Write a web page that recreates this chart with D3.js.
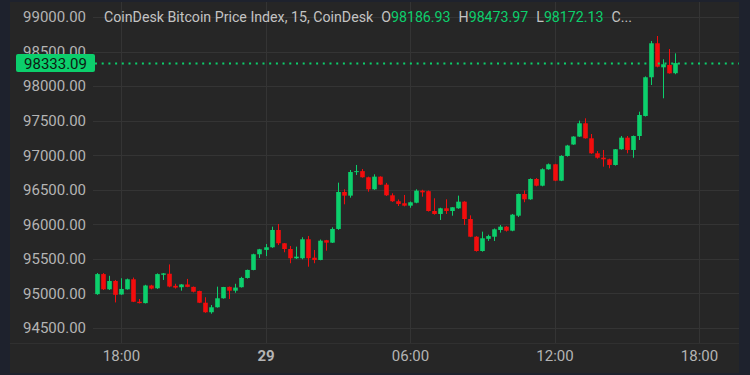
<!DOCTYPE html>
<html>
<head>
<meta charset="utf-8">
<script src="https://cdn.jsdelivr.net/npm/d3@7"></script>
<style>
  body { margin: 0; background: #1e222d; }
  svg { display: block; font-family: Roboto, "Noto Sans", sans-serif; }
</style>
</head>
<body>
<div id="container"></div>
<script>
// 15 minute candles, 28 Nov 17:00 -> 29 Nov 17:00
var startTime = new Date(2024, 10, 28, 17, 0);

var opens = [94990, 95280, 95060, 95180, 94985, 95060, 95205, 94880, 94860, 95115,
  95075, 95270, 95285, 95110, 95090, 95130, 95095, 95035, 94866, 94728,
  94800, 94930, 95095, 95040, 95090, 95224, 95340, 95567, 95630, 95668,
  95918, 95726, 95643, 95509, 95509, 95784, 95517, 95484, 95770, 95735,
  95933, 96468, 96415, 96757, 96770, 96681, 96507, 96690, 96574, 96420,
  96334, 96305, 96270, 96313, 96487, 96480, 96193, 96150, 96232, 96193,
  96232, 96328, 96077, 95821, 95614, 95790, 95821, 95918, 95966, 95908,
  96125, 96439, 96362, 96656, 96559, 96797, 96869, 96632, 96989, 97155,
  97270, 97462, 97245, 97028, 96964, 96941, 96859, 97086, 97254, 97076,
  97278, 97568, 98128, 98620, 98272, 98306, 98186.93];

var highs = [95295, 95295, 95255, 95195, 95220, 95215, 95230, 94920, 95125, 95125,
  95290, 95295, 95420, 95140, 95135, 95210, 95100, 95040, 94945, 94833,
  95098, 95095, 95100, 95140, 95240, 95345, 95575, 95645, 95715, 95966,
  96005, 95730, 95687, 95677, 95813, 95832, 95629, 95780, 95775, 95957,
  96603, 96507, 96786, 96859, 96801, 96690, 96724, 96695, 96600, 96449,
  96360, 96425, 96330, 96507, 96500, 96490, 96377, 96240, 96362, 96250,
  96415, 96335, 96130, 95830, 95894, 95850, 95940, 95990, 95975, 96150,
  96445, 96490, 96665, 96670, 96810, 96880, 96875, 97000, 97150, 97275,
  97500, 97534, 97307, 97060, 97076, 96950, 97090, 97278, 97278, 97285,
  97630, 98140, 98653, 98725, 98388, 98537, 98473.97];

var lows = [94980, 95050, 95050, 94870, 94980, 95055, 94875, 94855, 94855, 95060,
  95065, 95195, 95090, 95070, 95040, 95090, 95015, 94860, 94720, 94707,
  94795, 94925, 94920, 95010, 95085, 95215, 95335, 95513, 95540, 95660,
  95700, 95596, 95437, 95500, 95494, 95387, 95437, 95480, 95619, 95730,
  95920, 96290, 96386, 96714, 96675, 96472, 96500, 96570, 96410, 96325,
  96265, 96260, 96240, 96305, 96400, 96185, 96140, 96063, 96150, 96125,
  96225, 95991, 95815, 95605, 95605, 95760, 95759, 95880, 95895, 95900,
  96106, 96320, 96355, 96550, 96550, 96790, 96625, 96625, 96980, 97150,
  97265, 97240, 97020, 96950, 96834, 96811, 96850, 97080, 97028, 96964,
  97220, 97560, 98016, 98272, 97824, 98180, 98172.13];

var closes = [95280, 95060, 95180, 94980, 95065, 95205, 94880, 94860, 95115, 95070,
  95280, 95290, 95100, 95085, 95130, 95095, 95025, 94866, 94728, 94800,
  94930, 95093, 95040, 95085, 95224, 95340, 95567, 95639, 95668, 95918,
  95726, 95643, 95509, 95532, 95784, 95509, 95484, 95763, 95735, 95933,
  96468, 96415, 96757, 96770, 96681, 96507, 96690, 96574, 96420, 96334,
  96295, 96270, 96319, 96487, 96463, 96193, 96150, 96232, 96193, 96247,
  96328, 96077, 95821, 95614, 95798, 95830, 95928, 95966, 95908, 96140,
  96439, 96362, 96656, 96559, 96797, 96869, 96632, 96989, 97140, 97270,
  97462, 97245, 97028, 96964, 96941, 96859, 97086, 97254, 97076, 97278,
  97582, 98128, 98620, 98281, 98316, 98185, 98333.09];

var priceTicks = [94500, 95000, 95500, 96000, 96500, 97000, 97500, 98000, 98500, 99000];
var timeTicks = [new Date(2024, 10, 28, 18), new Date(2024, 10, 29, 0),
  new Date(2024, 10, 29, 6), new Date(2024, 10, 29, 12), new Date(2024, 10, 29, 18)];

var title = "CoinDesk Bitcoin Price Index, 15, CoinDesk";
var lastPrice = 98333.09;

var green = "#0ccf6c", red = "#f20d0d", gridColor = "#343434", textColor = "#b4b4b4";

var width = 750, height = 375;
var panel = {left: 10, top: 2, right: 739, bottom: 373};
var plot = {left: 93, top: 2, right: 739, bottom: 343};

var candles = closes.map(function(c, i) {
  return {
    t: d3.timeMinute.offset(startTime, i * 15),
    o: opens[i], h: highs[i], l: lows[i], c: c
  };
});

var x = d3.scaleTime()
    .domain([timeTicks[0], timeTicks[4]])
    .range([121, 699]);

var y = d3.scaleLinear()
    .domain([94500, 99000])
    .range([328, 17]);

var svg = d3.select("#container").append("svg")
    .attr("width", width)
    .attr("height", height);

svg.append("rect")
    .attr("x", panel.left).attr("y", panel.top)
    .attr("width", panel.right - panel.left)
    .attr("height", panel.bottom - panel.top)
    .attr("fill", "#262626");

// grid
svg.append("g").selectAll("line")
    .data(priceTicks)
  .enter().append("line")
    .attr("x1", plot.left).attr("x2", plot.right)
    .attr("y1", function(d) { return Math.round(y(d)) + 0.5; })
    .attr("y2", function(d) { return Math.round(y(d)) + 0.5; })
    .attr("stroke", gridColor);

svg.append("g").selectAll("line")
    .data(timeTicks)
  .enter().append("line")
    .attr("x1", function(d) { return Math.round(x(d)) + 0.5; })
    .attr("x2", function(d) { return Math.round(x(d)) + 0.5; })
    .attr("y1", plot.top).attr("y2", plot.bottom)
    .attr("stroke", gridColor);

svg.append("line")
    .attr("x1", panel.left).attr("x2", panel.right)
    .attr("y1", plot.bottom + 0.5).attr("y2", plot.bottom + 0.5)
    .attr("stroke", "#303030");

// y axis labels
var yAxis = d3.axisLeft(y)
    .tickValues(priceTicks)
    .tickSize(0)
    .tickPadding(0)
    .tickFormat(function(d) { return d.toFixed(2); });

var gy = svg.append("g")
    .attr("transform", "translate(86,0)")
    .call(yAxis);
gy.select(".domain").remove();
gy.selectAll("text")
    .attr("fill", textColor)
    .style("font-size", "15px")
    .style("font-family", "Roboto, sans-serif");

// x axis labels
var xAxis = d3.axisBottom(x)
    .tickValues(timeTicks)
    .tickSize(0)
    .tickPadding(0)
    .tickFormat(function(d) {
      return d.getHours() === 0 ? d3.timeFormat("%-d")(d) : d3.timeFormat("%H:%M")(d);
    });

var gx = svg.append("g")
    .attr("transform", "translate(0,350)")
    .call(xAxis);
gx.select(".domain").remove();
gx.selectAll("text")
    .attr("fill", textColor)
    .style("font-size", "15px")
    .style("font-family", "Roboto, sans-serif")
    .style("font-weight", function(d) { return d.getHours() === 0 ? "bold" : "normal"; });

// candles
var bodyW = 4.6;
var cg = svg.append("g").selectAll("g")
    .data(candles)
  .enter().append("g");

cg.append("line")
    .attr("x1", function(d) { return Math.round(x(d.t)) + 0.5; })
    .attr("x2", function(d) { return Math.round(x(d.t)) + 0.5; })
    .attr("y1", function(d) { return y(d.h); })
    .attr("y2", function(d) { return y(d.l); })
    .attr("stroke", function(d) { return d.c >= d.o ? green : red; })
    .attr("stroke-width", 1);

cg.append("rect")
    .attr("x", function(d) { return Math.round(x(d.t)) + 0.5 - bodyW / 2; })
    .attr("y", function(d) { return y(Math.max(d.o, d.c)); })
    .attr("width", bodyW)
    .attr("height", function(d) { return Math.max(1, Math.abs(y(d.o) - y(d.c))); })
    .attr("fill", function(d) { return d.c >= d.o ? green : red; });

// last price line + label
var ly = Math.round(y(lastPrice)) + 0.5;
svg.append("line")
    .attr("x1", 95).attr("x2", plot.right)
    .attr("y1", ly).attr("y2", ly)
    .attr("stroke", green)
    .attr("stroke-width", 2)
    .attr("stroke-dasharray", "2,4.7");

svg.append("rect")
    .attr("x", 16).attr("y", ly - 9.5)
    .attr("width", 79).attr("height", 18)
    .attr("rx", 2)
    .attr("fill", green);

svg.append("text")
    .attr("x", 55.5).attr("y", ly)
    .attr("dy", "0.35em")
    .attr("text-anchor", "middle")
    .attr("fill", "#0e1a12")
    .style("font-size", "15px")
    .text(lastPrice.toFixed(2));

// legend
var last = candles[candles.length - 1];
var legend = svg.append("text")
    .attr("x", 104).attr("y", 17)
    .attr("dy", "0.35em")
    .style("font-size", "14.2px")
    .attr("fill", "#c3c3c3");

legend.append("tspan").text(title);
[["O", last.o], ["H", last.h], ["L", last.l]].forEach(function(p) {
  legend.append("tspan").attr("dx", 8).text(p[0]);
  legend.append("tspan").attr("fill", green).text(p[1].toFixed(2));
});
legend.append("tspan").attr("dx", 8).text("C...");
</script>
</body>
</html>
